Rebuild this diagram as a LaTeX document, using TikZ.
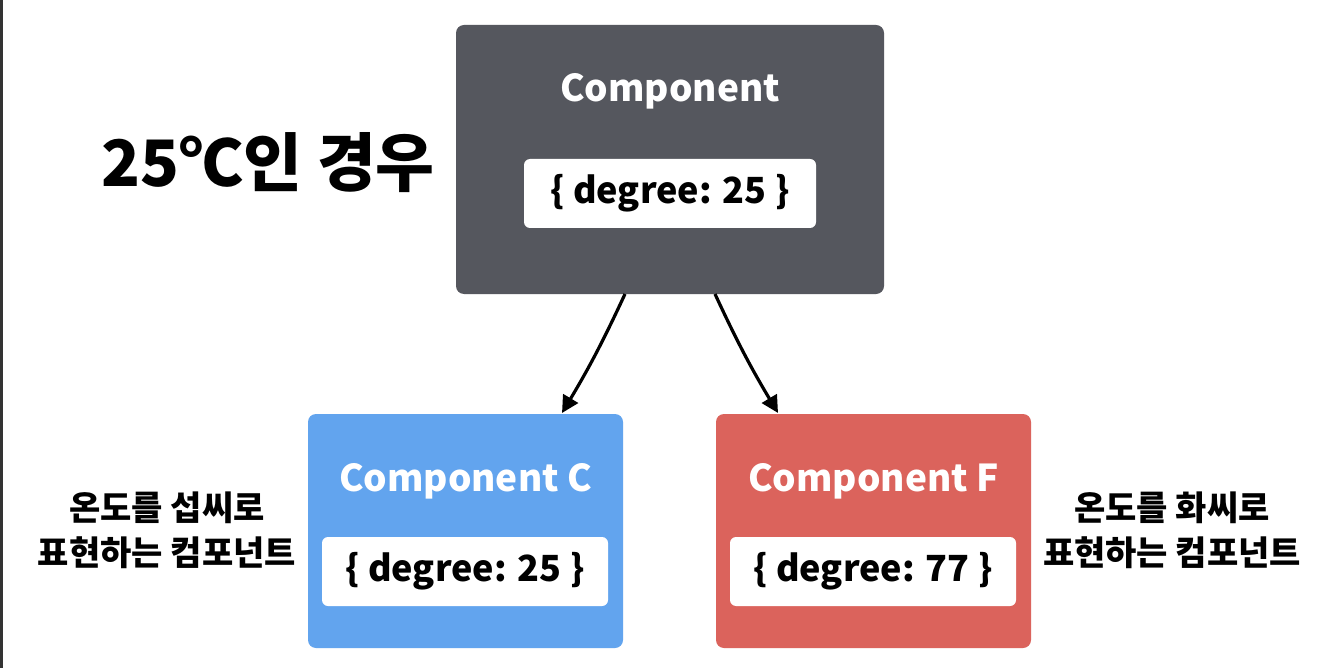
\documentclass[tikz,border=0pt]{standalone}
\usepackage{fontspec}
\setmainfont{Noto Sans CJK KR}
\usetikzlibrary{arrows.meta}
\definecolor{topgray}{HTML}{55575E}
\definecolor{cblue}{HTML}{62A4EE}
\definecolor{fred}{HTML}{DB635C}
\tikzset{
  compbox/.style={rounded corners=6pt, inner sep=0pt},
  pill/.style={fill=white, rounded corners=6pt, draw=none},
  ctitle/.style={text=white, font=\fontsize{37}{40}\selectfont\bfseries},
  ptext/.style={text=black, font=\fontsize{36}{38}\selectfont\bfseries},
  side/.style={text=black, align=center, font=\fontsize{34}{45}\selectfont\bfseries},
  conn/.style={line width=3.2pt, -{Triangle[length=17pt,width=17pt]}},
}
\begin{document}
\begin{tikzpicture}[x=1pt,y=-1pt]
\useasboundingbox (0,0) rectangle (1322,668);
\fill[white] (0,0) rectangle (1322,668);
\fill[black!80] (0,0) rectangle (2.5,668);
% top component
\fill[topgray, rounded corners=8pt] (456,25) rectangle (884,294);
\node[compbox, minimum width=428pt, minimum height=269pt] (top) at (670,159.5) {};
\node[ctitle] (toptitle) at (670,91) {Component};
\fill[pill] (524,159) rectangle (816,228);
\node[ptext] (toppill) at (670,193) {\{ degree: 25 \}};
% blue component
\fill[cblue, rounded corners=8pt] (308,414) rectangle (623,648);
\node[compbox, minimum width=315pt, minimum height=234pt] (cc) at (465.5,531) {};
\node[ctitle] (cctitle) at (465.5,481) {Component C};
\fill[pill] (322,537) rectangle (608,606);
\node[ptext] (ccpill) at (465,571) {\{ degree: 25 \}};
% red component
\fill[fred, rounded corners=8pt] (716,414) rectangle (1031,648);
\node[compbox, minimum width=315pt, minimum height=234pt] (cf) at (873.5,531) {};
\node[ctitle] (cftitle) at (873.5,481) {Component F};
\fill[pill] (730,537) rectangle (1016,606);
\node[ptext] (cfpill) at (873,571) {\{ degree: 77 \}};
% title
\node[anchor=west, text=black, font=\fontsize{64}{70}\selectfont\bfseries] (title) at (98,163) {25℃인 경우};
% side texts
\node[side] (lside) at (167,530) {온도를 섭씨로\\표현하는 컴포넌트};
\node[side] (rside) at (1172,530) {온도를 화씨로\\표현하는 컴포넌트};
% connectors
\coordinate (a1) at (625,294);
\coordinate (a2) at (715,294);
\coordinate (b1) at (562,413);
\coordinate (b2) at (778,413);
\draw[conn] (a1) to[bend left=3] (b1);
\draw[conn] (a2) to[bend right=3] (b2);
\end{tikzpicture}
\end{document}
